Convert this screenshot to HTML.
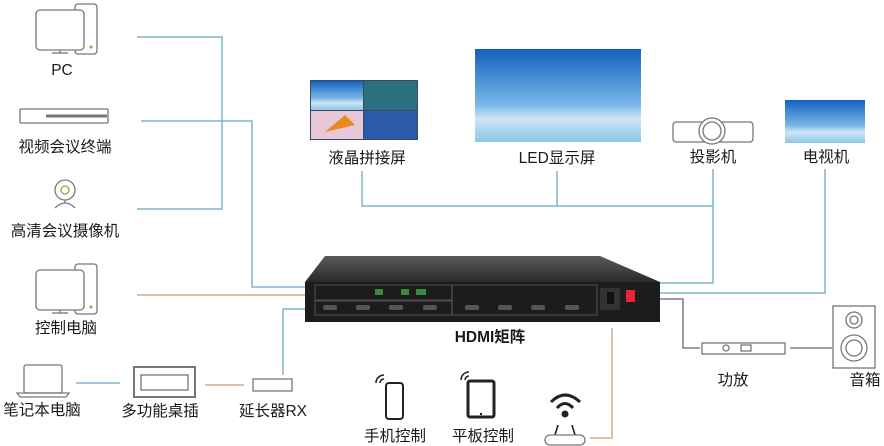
<!DOCTYPE html>
<html><head><meta charset="utf-8"><style>
html,body{margin:0;padding:0;background:#fff;}
svg{display:block;}
text{font-family:"Liberation Sans","Noto Sans CJK SC",sans-serif;font-size:15.5px;fill:#1a1a1a;text-anchor:middle;}
</style></head><body>
<svg width="884" height="446" viewBox="0 0 884 446" xmlns="http://www.w3.org/2000/svg">
<defs>
<linearGradient id="sky" x1="0" y1="0" x2="0" y2="1">
<stop offset="0" stop-color="#1560c0"/><stop offset="0.6" stop-color="#7ab8e8"/><stop offset="0.75" stop-color="#cfe5f5"/><stop offset="1" stop-color="#8cc6e8"/></linearGradient>
<linearGradient id="top" x1="0" y1="0" x2="0" y2="1"><stop offset="0" stop-color="#5a5a5a"/><stop offset="1" stop-color="#2a2a2a"/></linearGradient>
</defs>
<g fill="none" stroke="#7fb6c8" stroke-width="1.5">
<polyline points="137,37 222,37 222,209 137,209"/>
<polyline points="141,121 252,121 252,287 308,287"/>
<polyline points="308,309 283,309 283,375"/>
<polyline points="76,383 120,383"/>
<polyline points="362,171 362,206 713,206"/>
<polyline points="557,171 557,206"/>
<polyline points="713,169 713,283 658,283"/>
<polyline points="825,169 825,293 658,293"/>
</g>
<g fill="none" stroke="#d9a88a" stroke-width="1.5">
<polyline points="137,295 308,295"/>
<polyline points="205,385 244,385"/>
<polyline points="612,328 612,438 590,438"/>
</g>
<g fill="none" stroke="#666" stroke-width="1.3">
<polyline points="658,299 683,299 683,348 700,348"/>
<polyline points="790,348 832,348"/>
</g>
<g fill="none" stroke="#777" stroke-width="1.3">
<rect x="75" y="4" width="22" height="50" rx="3"/>
<rect x="36" y="10" width="48" height="40" rx="4" fill="#fff"/>
<line x1="60" y1="50" x2="60" y2="53"/><line x1="52" y1="53" x2="68" y2="53"/>
<rect x="20" y="109" width="88" height="14" rx="1"/>
<line x1="46" y1="116" x2="107" y2="116" stroke-width="3"/>
<circle cx="65" cy="190" r="10"/><circle cx="65" cy="190" r="4" stroke="#8a4"/>
<path d="M55,208 Q65,198 75,208"/>
<line x1="65" y1="200" x2="65" y2="203"/>
<rect x="75" y="264" width="22" height="50" rx="3"/>
<rect x="36" y="270" width="48" height="40" rx="4" fill="#fff"/>
<line x1="60" y1="310" x2="60" y2="313"/><line x1="52" y1="313" x2="68" y2="313"/>
<rect x="24" y="365" width="38" height="28" rx="2"/>
<path d="M17,393 L69,393 L66,397 L20,397 Z"/>
<rect x="134" y="367" width="61" height="30" stroke-width="2"/>
<rect x="141" y="375" width="47" height="15"/>
<rect x="253" y="379" width="39" height="12"/>
<rect x="702" y="343" width="83" height="11"/>
<circle cx="726" cy="348" r="3"/><rect x="741" y="345" width="10" height="6"/>
<rect x="833" y="306" width="42" height="62"/>
<circle cx="854" cy="320" r="8"/><circle cx="854" cy="320" r="4"/>
<circle cx="854" cy="348" r="13"/><circle cx="854" cy="348" r="8"/>
<rect x="673" y="122" width="80" height="20" rx="3"/>
</g>
<circle cx="712" cy="131" r="13" fill="#fff" stroke="#777" stroke-width="1.3"/>
<circle cx="712" cy="131" r="9" fill="none" stroke="#777" stroke-width="1.3"/>
<circle cx="91" cy="47" r="1.5" fill="#8a4"/><circle cx="91" cy="307" r="1.5" fill="#8a4"/>
<rect x="310" y="80" width="108" height="60" fill="#3a4a60"/>
<rect x="311" y="81" width="52" height="29" fill="url(#sky)"/>
<rect x="364" y="81" width="53" height="29" fill="#2b6f80"/>
<rect x="311" y="111" width="52" height="28" fill="#e8c8d8"/>
<path d="M325,132 L345,115 L355,125 Z" fill="#e88a20"/>
<rect x="364" y="111" width="53" height="28" fill="#2c5aa8"/>
<rect x="475" y="49" width="166" height="93" fill="url(#sky)"/>
<rect x="785" y="100" width="80" height="43" fill="url(#sky)"/>
<polygon points="325,256 600,256 660,282 305,282" fill="url(#top)"/>
<rect x="305" y="282" width="355" height="40" fill="#1c1c1c"/>
<g fill="none" stroke="#666" stroke-width="0.7">
<rect x="315" y="285" width="137" height="15"/><rect x="315" y="301" width="137" height="14"/>
<rect x="452" y="285" width="145" height="30"/>
</g>
<rect x="600" y="288" width="20" height="22" fill="#333"/>
<rect x="607" y="292" width="7" height="12" fill="#111"/>
<rect x="626" y="290" width="9" height="12" fill="#e23"/>
<g fill="#555">
<rect x="323" y="305" width="14" height="5" rx="2"/><rect x="356" y="305" width="14" height="5" rx="2"/><rect x="389" y="305" width="14" height="5" rx="2"/><rect x="423" y="305" width="14" height="5" rx="2"/>
<rect x="465" y="305" width="14" height="5" rx="2"/><rect x="498" y="305" width="14" height="5" rx="2"/><rect x="531" y="305" width="14" height="5" rx="2"/><rect x="565" y="305" width="14" height="5" rx="2"/>
</g>
<rect x="375" y="289" width="8" height="6" fill="#3a8a3a"/><rect x="401" y="289" width="8" height="6" fill="#3a8a3a"/><rect x="416" y="289" width="10" height="6" fill="#3a8a3a"/>
<rect x="386" y="383" width="17" height="36" rx="3" fill="none" stroke="#222" stroke-width="2"/>
<rect x="468" y="381" width="26" height="36" rx="2" fill="none" stroke="#222" stroke-width="3"/>
<circle cx="481" cy="414" r="1.2" fill="#222"/>
<g fill="none" stroke="#222" stroke-width="1.6">
<path d="M376,383 A8,8 0 0 1 384,375"/><path d="M380,383 A4,4 0 0 1 384,379"/>
<path d="M461,380 A8,8 0 0 1 469,372"/><path d="M465,380 A4,4 0 0 1 469,376"/>
<path d="M551,402 Q565,388 580,402" stroke-width="3"/><path d="M557,408 Q565,399 573,408" stroke-width="3"/>
<line x1="558" y1="425" x2="555" y2="435"/><line x1="572" y1="425" x2="575" y2="435"/>
<rect x="545" y="435" width="40" height="10" rx="5" stroke="#777" stroke-width="1.3"/>
</g>
<circle cx="565" cy="414" r="3.5" fill="#222"/>
<text x="62" y="75">PC</text>
<text x="65" y="152">视频会议终端</text>
<text x="65" y="236">高清会议摄像机</text>
<text x="66" y="333">控制电脑</text>
<text x="42" y="415">笔记本电脑</text>
<text x="160" y="416">多功能桌插</text>
<text x="273" y="416">延长器RX</text>
<text x="367" y="163">液晶拼接屏</text>
<text x="557" y="163">LED显示屏</text>
<text x="713" y="162">投影机</text>
<text x="826" y="162">电视机</text>
<text x="490" y="342" style="font-weight:bold">HDMI矩阵</text>
<text x="395" y="441">手机控制</text>
<text x="483" y="441">平板控制</text>
<text x="733" y="385">功放</text>
<text x="865" y="385">音箱</text>
</svg>
</body></html>
